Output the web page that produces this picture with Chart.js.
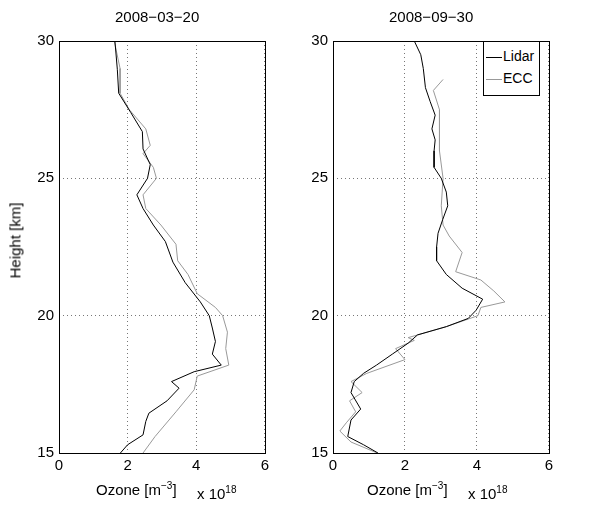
<!DOCTYPE html>
<html>
<head>
<meta charset="utf-8">
<script src="https://cdn.jsdelivr.net/npm/chart.js@4"></script>
<style>
  body { margin: 0; background: #fff; font-family: "Liberation Sans", Arial, sans-serif; }
  #wrap { position: relative; width: 593px; height: 506px; }
  canvas { position: absolute; top: 0; }
  .t { position: absolute; font-size: 15px; color: #000; white-space: nowrap; font-weight: normal; }
  #legend { position: absolute; left: 483px; top: 41px; width: 55px; height: 53px; border: 1px solid #000; background: #fff; font-size: 14px; }
  #legend div { position: absolute; left: 2px; height: 20px; line-height: 20px; }
  #legend span { display: inline-block; width: 16px; height: 0; vertical-align: middle; margin-right: 1px; }
</style>
</head>
<body>
<div id="wrap">
  <canvas id="c1" width="273" height="506" style="left:0"></canvas>
  <canvas id="c2" width="283" height="506" style="left:274px"></canvas>
  <div class="t" style="left:115px;top:8px">2008−03−20</div>
  <div class="t" style="left:389px;top:8px">2008−09−30</div>
  <div class="t" style="left:96px;top:480px">Ozone [m<sup style="font-size:10px">−3</sup>]</div>
  <div class="t" style="left:197px;top:484px">x 10<sup style="font-size:10px">18</sup></div>
  <div class="t" style="left:367px;top:480px">Ozone [m<sup style="font-size:10px">−3</sup>]</div>
  <div class="t" style="left:468px;top:484px">x 10<sup style="font-size:10px">18</sup></div>
  <div class="t" style="left:-23px;top:232px;transform:rotate(-90deg)">Height [km]</div>
  <div id="legend">
    <div style="top:4px"><span style="border-top:1px solid #000"></span>Lidar</div>
    <div style="top:26px"><span style="border-top:1px solid #999"></span>ECC</div>
  </div>
</div>
<script>
// 2008-03-20
const h1Lidar = [30, 28.97, 28.1, 27.4, 26.7, 26.07, 25.5, 25, 24.4, 23.9, 23.3, 22.7, 21.95, 21.2, 20.5, 20, 19.55, 19.06, 18.6, 18.2, 17.96, 17.6, 17.36, 16.9, 16.45, 16.15, 15.66, 15.3, 15];
const o1Lidar = [1.63, 1.70, 1.74, 2.09, 2.43, 2.45, 2.66, 2.58, 2.27, 2.45, 2.75, 3.10, 3.32, 3.68, 4.12, 4.38, 4.47, 4.56, 4.47, 4.73, 3.94, 3.28, 3.50, 3.15, 2.62, 2.53, 2.45, 2.0, 1.79];
const h1Ecc = [30, 29, 28.1, 27.5, 26.8, 26.2, 25.9, 25.4, 25, 24.4, 23.9, 23.3, 22.6, 22, 21.5, 20.8, 20.3, 20, 19.4, 18.8, 18.2, 17.8, 17.3, 16.5, 15.6, 15];
const o1Ecc = [1.61, 1.78, 1.78, 2.05, 2.53, 2.66, 2.45, 2.75, 2.84, 2.45, 2.53, 2.97, 3.41, 3.46, 3.76, 4.03, 4.56, 4.77, 4.91, 4.86, 4.95, 4.03, 3.94, 3.41, 2.80, 2.45];
// 2008-09-30
const h2Lidar = [30, 29.5, 29, 28.3, 27.8, 27.3, 26.8, 26.4, 26, 25.4, 25, 24.5, 24, 23.5, 23, 22.5, 22, 21.5, 21, 20.6, 20.2, 19.9, 19.6, 19.3, 19.0, 18.6, 18.2, 17.9, 17.6, 17.2, 16.6, 16.2, 15.6, 15.3, 15];
const o2Lidar = [2.26, 2.44, 2.51, 2.57, 2.70, 2.84, 2.75, 2.84, 2.81, 2.81, 3.01, 3.15, 3.19, 3.05, 2.92, 2.88, 2.88, 3.15, 3.59, 4.16, 3.98, 3.76, 3.15, 2.35, 2.09, 1.65, 1.21, 0.85, 0.59, 0.50, 0.77, 0.50, 0.41, 0.85, 1.25];
const h2Ecc = [28.6, 28.2, 27.5, 26, 25, 24, 23.3, 22.9, 22.3, 21.6, 21.3, 20.9, 20.5, 20.3, 20.0, 19.6, 19.2, 19.1, 18.8, 18.4, 17.9, 17.6, 17.2, 16.9, 16.5, 16.1, 15.8, 15.4, 15];
const o2Ecc = [3.06, 2.79, 2.96, 2.96, 3.06, 3.01, 3.06, 3.23, 3.59, 3.41, 4.11, 4.47, 4.78, 4.11, 4.03, 3.15, 2.09, 2.26, 1.74, 2.00, 0.94, 0.50, 0.81, 0.46, 0.63, 0.37, 0.19, 0.50, 1.23];
const xTicks = [0, 2, 4, 6];
const yTicks = [15, 20, 25, 30];

const pts = (xs, ys) => xs.map((x, i) => ({ x: x, y: ys[i] }));

const boxPlugin = {
  id: 'box',
  afterDraw(chart) {
    const a = chart.chartArea, c = chart.ctx;
    c.save();
    c.strokeStyle = '#000';
    c.lineWidth = 1;
    c.strokeRect(Math.round(a.left) + 0.5, Math.round(a.top) + 0.5, Math.round(a.right - a.left), Math.round(a.bottom - a.top));
    c.restore();
  }
};

function makeChart(id, lidar, ecc) {
  const font = { family: 'Liberation Sans', size: 15 };
  new Chart(document.getElementById(id), {
    type: 'scatter',
    data: {
      datasets: [
        { label: 'Lidar', data: lidar, showLine: true, borderColor: '#000', borderWidth: 1, pointRadius: 0, order: 1 },
        { label: 'ECC', data: ecc, showLine: true, borderColor: '#999', borderWidth: 1, pointRadius: 0, order: 2 }
      ]
    },
    options: {
      responsive: false,
      animation: false,
      layout: { padding: { top: 41, right: 0, left: 0, bottom: 0 } },
      plugins: { legend: { display: false }, tooltip: { enabled: false } },
      scales: {
        x: {
          type: 'linear', min: 0, max: 6,
          afterBuildTicks: s => { s.ticks = xTicks.map(v => ({ value: v })); },
          afterFit: s => { s.height = 53; },
          ticks: { color: '#000', font: font, padding: 4 },
          grid: { color: '#777', drawTicks: false },
          border: { display: false, dash: [1, 3] }
        },
        y: {
          type: 'linear', min: 15, max: 30,
          afterBuildTicks: s => { s.ticks = yTicks.map(v => ({ value: v })); },
          afterFit: s => { s.width = 59; },
          ticks: { color: '#000', font: font, padding: 5 },
          grid: { color: '#777', drawTicks: false },
          border: { display: false, dash: [1, 3] }
        }
      }
    },
    plugins: [boxPlugin]
  });
}

makeChart('c1', pts(o1Lidar, h1Lidar), pts(o1Ecc, h1Ecc));
makeChart('c2', pts(o2Lidar, h2Lidar), pts(o2Ecc, h2Ecc));
</script>
</body>
</html>
